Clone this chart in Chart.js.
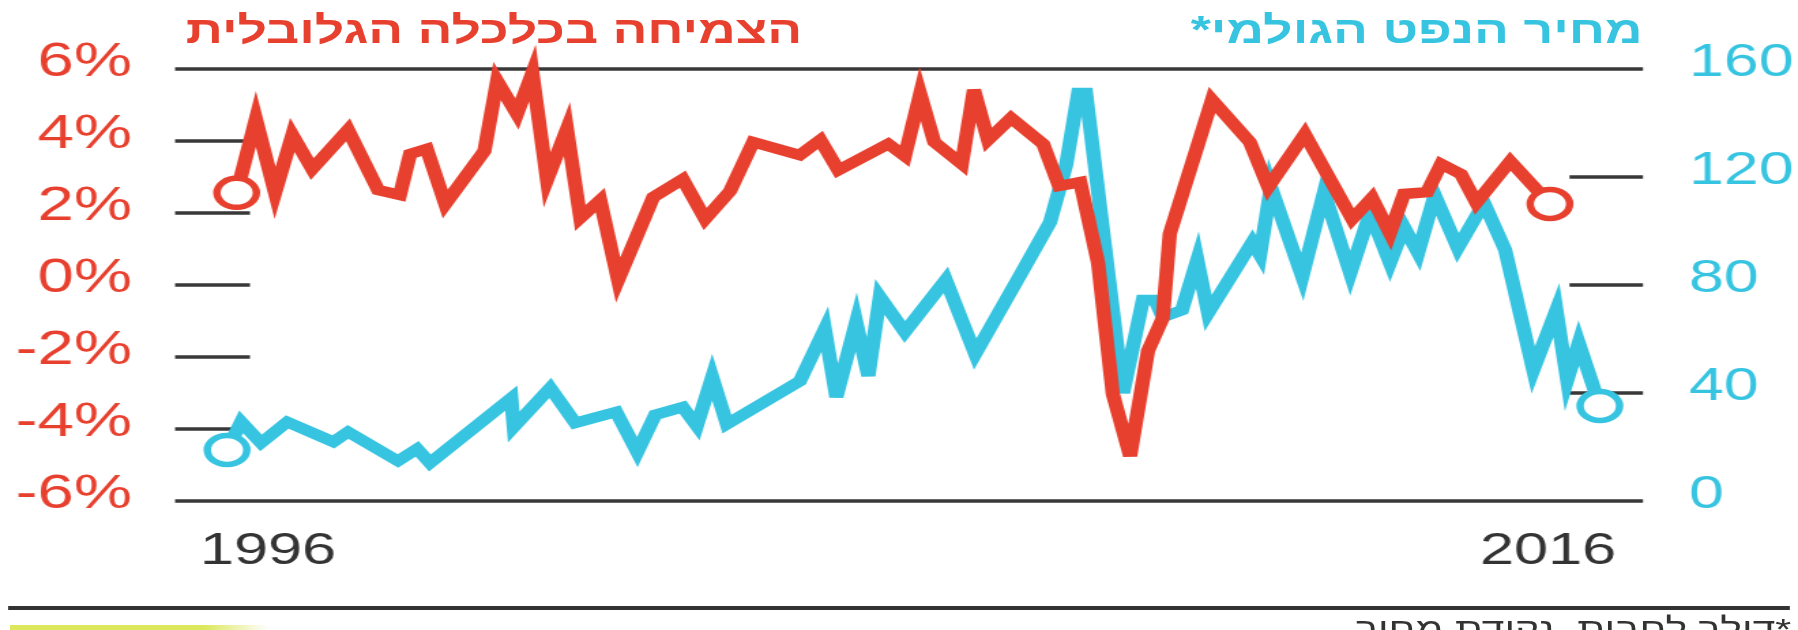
<!DOCTYPE html>
<html lang="he">
<head>
<meta charset="utf-8">
<script src="https://cdn.jsdelivr.net/npm/chart.js@4"></script>
<style>
  html, body { margin: 0; padding: 0; background: #fff; overflow: hidden; }
  body { width: 1798px; height: 630px; position: relative; }
  /* the original graphic is stretched sideways, so the whole thing is drawn narrow and scaled */
  #wrap { position: absolute; left: 0; top: 0; width: 1320px; height: 630px;
          transform: scaleX(1.36212); transform-origin: 0 0; }
  #chart { position: absolute; left: 0; top: 0; }
  .title { position: absolute; direction: rtl; white-space: nowrap;
           font-family: "Liberation Sans", Arial, sans-serif; font-weight: bold;
           font-size: 38px; line-height: 1; top: 11px; }
  #t1 { color: #e8402e; right: 731px; }
  #t2 { color: #36c4e1; right: 114px; }
  #rule { position: absolute; left: 6px; width: 1308px; top: 606px; height: 3.5px; background: #333; }
  #note { position: absolute; right: 5px; top: 614px; direction: rtl; white-space: nowrap;
          font-family: "Liberation Sans", Arial, sans-serif; font-size: 30px; line-height: 1; color: #333; }
  #bar { position: absolute; left: 7px; top: 625px; width: 190px; height: 10px;
         background: linear-gradient(to right, #dbe85c 75%, rgba(219,232,92,0)); }
</style>
</head>
<body>
<div id="wrap">
  <canvas id="chart" width="1320" height="630"></canvas>
  <div class="title" id="t1">הצמיחה בכלכלה הגלובלית</div>
  <div class="title" id="t2">מחיר הנפט הגולמי*</div>
  <div id="rule"></div>
  <div id="note">*דולר לחבית, נקודת מחיר</div>
  <div id="bar"></div>
</div>
<script>
const growthYears = [1995.51, 1995.81, 1996.11, 1996.38, 1996.69, 1997.25, 1997.72, 1998.06, 1998.22, 1998.48,
  1998.77, 1999.38, 1999.58, 1999.89, 2000.13, 2000.36, 2000.67, 2000.88, 2001.19, 2001.47,
  2002.02, 2002.48, 2002.83, 2003.22, 2003.58, 2004.31, 2004.63, 2004.91, 2005.69, 2005.95,
  2006.19, 2006.41, 2006.84, 2007.03, 2007.25, 2007.61, 2008.11, 2008.36, 2008.69, 2008.97,
  2009.2, 2009.47, 2009.75, 2009.98, 2010.09, 2010.75, 2011.34, 2011.63, 2012.2, 2012.94,
  2013.25, 2013.53, 2013.75, 2014.11, 2014.33, 2014.64, 2014.88, 2015.41, 2016.03];
const growthValues = [2.56, 4.61, 2.56, 4.17, 3.22, 4.31, 2.64, 2.5, 3.64, 3.78,
  2.25, 3.72, 5.67, 4.75, 5.89, 2.92, 4.33, 1.86, 2.36, 0.14,
  2.44, 2.94, 1.83, 2.61, 3.97, 3.61, 4.03, 3.19, 3.92, 3.58,
  5.31, 3.97, 3.36, 5.42, 4.03, 4.64, 3.92, 2.75, 2.86, 0.61,
  -3.03, -4.75, -1.83, -0.92, 1.42, 5.14, 3.97, 2.72, 4.19, 1.83,
  2.42, 1.44, 2.53, 2.58, 3.36, 3.08, 2.28, 3.44, 2.25];

const oilYears = [1995.36, 1995.58, 1995.89, 1996.3, 1997.02, 1997.25, 1998.03, 1998.33, 1998.53, 1999.8,
  1999.84, 2000.41, 2000.8, 2001.44, 2001.77, 2002.05, 2002.48, 2002.7, 2002.94, 2003.17,
  2004.31, 2004.7, 2004.88, 2005.19, 2005.38, 2005.56, 2005.95, 2006.59, 2007.05, 2007.78,
  2008.22, 2008.47, 2008.66, 2008.78, 2009.36, 2009.67, 2009.86, 2009.98, 2010.28, 2010.52,
  2010.69, 2011.38, 2011.5, 2011.67, 2012.16, 2012.5, 2012.91, 2013.22, 2013.53, 2013.75,
  2013.97, 2014.23, 2014.59, 2015.0, 2015.33, 2015.77, 2016.13, 2016.3, 2016.48, 2016.81];
const oilValues = [18.9, 29.3, 21.5, 29.3, 21.9, 25.6, 14.8, 19.3, 14.1, 38.1,
  27.4, 41.9, 28.9, 33.0, 18.1, 31.9, 34.8, 27.8, 45.9, 28.5,
  44.4, 63.7, 38.5, 66.3, 46.3, 75.6, 62.6, 81.9, 54.4, 84.8,
  103.3, 124.4, 151.1, 151.1, 40, 74.4, 74.4, 68.1, 70.7, 89.3,
  69.6, 95.9, 91.1, 116.3, 83.0, 114.4, 84.4, 106.7, 88.1, 101.5,
  91.9, 113.3, 93.7, 110.4, 93.0, 48.5, 70.7, 44.8, 58.5, 35.2];

const yearTicks = [1996, 2016];
const growthTicks = [-6, -4, -2, 0, 2, 4, 6];
const oilTicks = [0, 40, 80, 120, 160];

const RED = '#e8402e';
const CYAN = '#36c4e1';
const FONT = '"Liberation Sans", Arial, sans-serif';

function toPoints(xs, ys) {
  return xs.map((x, i) => ({x: x, y: ys[i]}));
}
// hollow rings only on first and last point
function endRadius(ctx) {
  const n = ctx.dataset.data.length;
  return (ctx.dataIndex === 0 || ctx.dataIndex === n - 1) ? 14.5 : 0;
}

// full lines at top & bottom, short marks for the other ticks
const frameLines = {
  id: 'frameLines',
  beforeDatasetsDraw(chart) {
    const {ctx, chartArea: a, scales} = chart;
    ctx.save();
    ctx.strokeStyle = '#383838';
    ctx.lineWidth = 3.5;
    const seg = (x1, x2, y) => { ctx.beginPath(); ctx.moveTo(x1, y); ctx.lineTo(x2, y); ctx.stroke(); };
    const yl = scales.y.ticks;
    yl.forEach((t, i) => {
      const y = scales.y.getPixelForValue(t.value);
      if (i === 0 || i === yl.length - 1) seg(a.left, a.right, y);
      else seg(a.left, a.left + 55, y);
    });
    const yr = scales.y1.ticks;
    yr.forEach((t, i) => {
      if (i === 0 || i === yr.length - 1) return;
      const y = scales.y1.getPixelForValue(t.value);
      seg(a.right - 54, a.right, y);
    });
    ctx.restore();
    // keep the thick spikes pointed but not overshooting too far
    ctx.miterLimit = 6;
  }
};

new Chart(document.getElementById('chart'), {
  type: 'line',
  data: {
    datasets: [{
      label: 'growth',
      data: toPoints(growthYears, growthValues),
      yAxisID: 'y',
      borderColor: RED,
      borderWidth: 10.5,
      pointRadius: endRadius,
      pointBorderWidth: 5.5,
      pointBorderColor: RED,
      pointBackgroundColor: '#fff',
      tension: 0
    }, {
      label: 'oil',
      data: toPoints(oilYears, oilValues),
      yAxisID: 'y1',
      borderColor: CYAN,
      borderWidth: 10.5,
      pointRadius: endRadius,
      pointBorderWidth: 5.5,
      pointBorderColor: CYAN,
      pointBackgroundColor: '#fff',
      tension: 0
    }]
  },
  options: {
    responsive: false,
    animation: false,
    clip: false,
    layout: { padding: { top: 69, left: 0, right: 0, bottom: 0 } },
    plugins: { legend: { display: false }, tooltip: { enabled: false } },
    scales: {
      x: {
        type: 'linear',
        min: 1994.547,
        max: 2017.484,
        afterBuildTicks: s => { s.ticks = yearTicks.map(v => ({value: v})); },
        afterFit: s => { s.height = 129; },
        grid: { display: false },
        border: { display: false },
        ticks: {
          color: '#333',
          padding: 16,
          maxRotation: 0,
          font: { family: FONT, size: 45 },
          callback: v => String(v)
        }
      },
      y: {
        position: 'left',
        min: -6,
        max: 6,
        afterBuildTicks: s => { s.ticks = growthTicks.map(v => ({value: v})); },
        afterFit: s => { s.width = 128.5; },
        grid: { display: false, drawTicks: false },
        border: { display: false },
        ticks: {
          color: RED,
          padding: 31.6,
          labelOffset: -6,
          font: { family: FONT, size: 48 },
          callback: v => v + '%'
        }
      },
      y1: {
        position: 'right',
        min: 0,
        max: 160,
        afterBuildTicks: s => { s.ticks = oilTicks.map(v => ({value: v})); },
        afterFit: s => { s.width = 113.8; },
        grid: { display: false, drawTicks: false },
        border: { display: false },
        ticks: {
          color: CYAN,
          padding: 33.8,
          labelOffset: -6,
          font: { family: FONT, size: 46 }
        }
      }
    }
  },
  plugins: [frameLines]
});
</script>
</body>
</html>
